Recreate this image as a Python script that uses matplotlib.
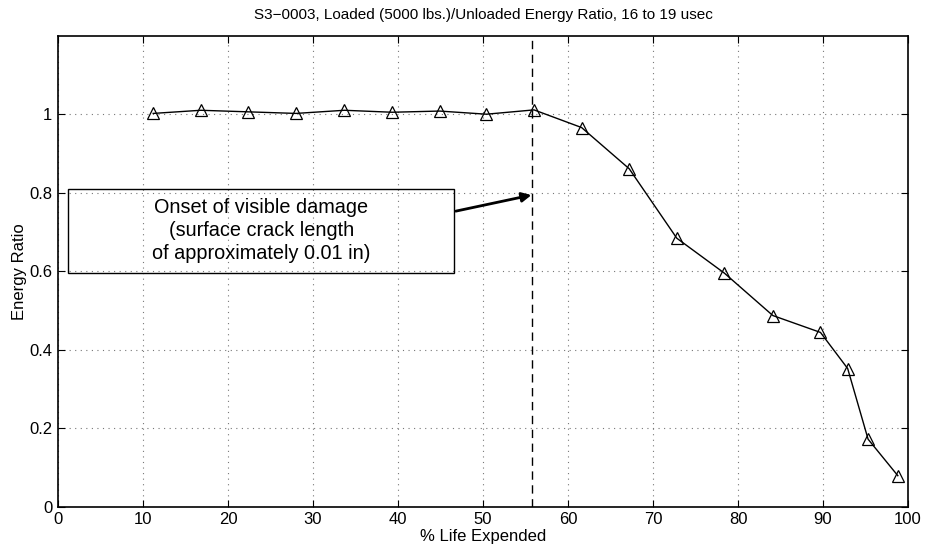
import matplotlib
matplotlib.use("Agg")
import matplotlib.pyplot as plt
import numpy as np

plt.rcParams['font.family'] = ['Liberation Sans', 'DejaVu Sans']

# % life expended and the loaded/unloaded energy ratio
life = [11.2, 16.8, 22.4, 28.0, 33.7, 39.3, 44.9, 50.4, 56.0,
        61.6, 67.2, 72.8, 78.4, 84.1, 89.7, 92.9, 95.3, 98.8]
ratio = [1.002, 1.010, 1.006, 1.002, 1.010, 1.005, 1.008, 1.000, 1.011,
         0.966, 0.861, 0.684, 0.595, 0.487, 0.444, 0.352, 0.172, 0.079]

onset_x = 55.8
xticks = list(range(0, 101, 10))
yticks = [0, 0.2, 0.4, 0.6, 0.8, 1]
ytick_labels = ["0", "0.2", "0.4", "0.6", "0.8", "1"]

note = "Onset of visible damage\n(surface crack length\nof approximately 0.01 in)"


def plot():
    fig = plt.figure(figsize=(9.26, 5.51), dpi=100)
    ax = fig.add_axes([0.0626, 0.0804, 0.918, 0.8548])

    ax.plot(life, ratio, color="black", linewidth=1.0, marker="^",
            markersize=8, markerfacecolor="none", markeredgecolor="black",
            markeredgewidth=0.9, zorder=3)
    ax.axvline(onset_x, color="black", linestyle=(0, (6, 4)), linewidth=1.0)

    ax.set_xlim(0, 100)
    ax.set_ylim(0, 1.2)
    ax.set_xticks(xticks)
    ax.set_yticks(yticks)
    ax.set_yticklabels(ytick_labels)
    ax.grid(True, linestyle=(0, (1, 4)), color="#777777", linewidth=0.8)
    ax.tick_params(direction="in", length=5, top=True, right=True,
                   labelsize=12, width=0.8)
    ax.tick_params(axis="x", pad=4)
    ax.tick_params(axis="y", pad=4)
    for s in ax.spines.values():
        s.set_linewidth(1.2)

    ax.set_title("S3\u22120003, Loaded (5000 lbs.)/Unloaded Energy Ratio, 16 to 19 usec",
                 fontsize=11, pad=12)
    ax.set_xlabel("% Life Expended", fontsize=12, labelpad=1)
    ax.set_ylabel("Energy Ratio", fontsize=12, labelpad=2)

    # annotation box
    ax.text(23.9, 0.703, note, ha="center", va="center", fontsize=14.3,
            linespacing=1.27)
    ax.add_patch(plt.Rectangle((1.2, 0.595), 45.4, 0.215, fill=False,
                               edgecolor="black", linewidth=1.0, zorder=4))
    ax.annotate("", xy=(55.7, 0.794), xytext=(46.8, 0.753),
                arrowprops=dict(arrowstyle="-|>", color="black", lw=2,
                                mutation_scale=14, shrinkA=0, shrinkB=0))

    fig.savefig("out.png", dpi=100)


if __name__ == "__main__":
    plot()
